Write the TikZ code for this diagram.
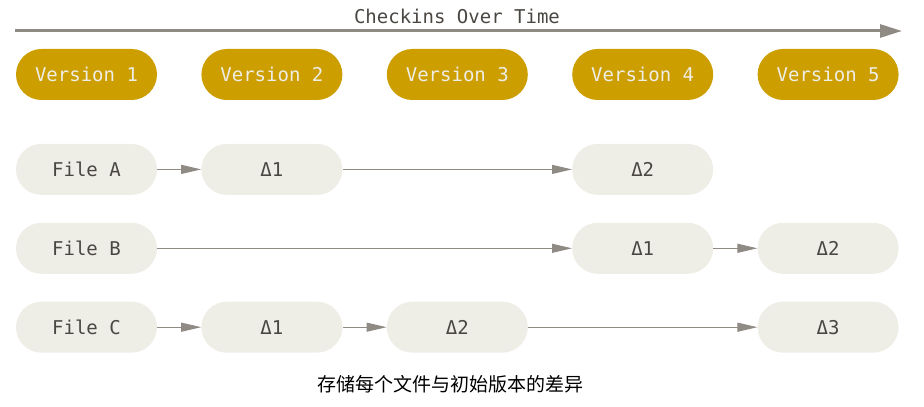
\documentclass[tikz,border=0pt]{standalone}
\usepackage{fontspec}
\setmonofont{DejaVu Sans Mono}
\newfontfamily\cjkfont{Noto Sans CJK SC}
\usepackage{tikz}
\usetikzlibrary{arrows.meta,positioning}
\definecolor{gitgold}{HTML}{CC9E00}
\definecolor{gitpaper}{HTML}{EEEDE6}
\definecolor{gitgray}{HTML}{8F8A84}
\definecolor{gitink}{HTML}{4A4743}

\begin{document}
\begin{tikzpicture}[x=1pt,y=1pt,>={Triangle[length=20pt,width=9pt]},node distance=44pt,
 box/.style={rounded corners=25.5pt,minimum width=141pt,minimum height=51pt,inner sep=0pt,font=\ttfamily\fontsize{19}{21}\selectfont},
 ver/.style={box,fill=gitgold,text=gitpaper},
 file/.style={box,fill=gitpaper,text=gitink},
 link/.style={->,draw=gitgray,line width=1pt}]
\useasboundingbox (0,0) rectangle (924,407);
% time axis
\coordinate (t0) at (15,376);
\coordinate (t1) at (902,376);
\draw[gitgray,line width=3pt,-{Triangle[length=22pt,width=13pt]}] (t0) -- (t1);
\node[font=\ttfamily\fontsize{19}{21}\selectfont,text=gitink] (tl) at (457,391) {Checkins Over Time};
% versions
\node[ver] (v1) at (86.5,332.5) {Version 1};
\node[ver] (v2) [right=of v1] {Version 2};
\node[ver] (v3) [right=of v2] {Version 3};
\node[ver] (v4) [right=of v3] {Version 4};
\node[ver] (v5) [right=of v4] {Version 5};
% files
\node[file] (fa) [below=43.5pt of v1] {File A};
\node[file] (fb) [below=27.5pt of fa] {File B};
\node[file] (fc) [below=27.5pt of fb] {File C};
\node[file] (a1) at (v2 |- fa) {Δ1};
\node[file] (a2) at (v4 |- fa) {Δ2};
\node[file] (b1) at (v4 |- fb) {Δ1};
\node[file] (b2) at (v5 |- fb) {Δ2};
\node[file] (c1) at (v2 |- fc) {Δ1};
\node[file] (c2) at (v3 |- fc) {Δ2};
\node[file] (c3) at (v5 |- fc) {Δ3};
\draw[link] (fa) -- (a1);
\draw[link] (a1) -- (a2);
\draw[link] (fb) -- (b1);
\draw[link] (b1) -- (b2);
\draw[link] (fc) -- (c1);
\draw[link] (c1) -- (c2);
\draw[link] (c2) -- (c3);
\node[font=\cjkfont\fontsize{19}{21}\selectfont,text=black] (cap) at (450,23) {存储每个文件与初始版本的差异};
\end{tikzpicture}
\end{document}
